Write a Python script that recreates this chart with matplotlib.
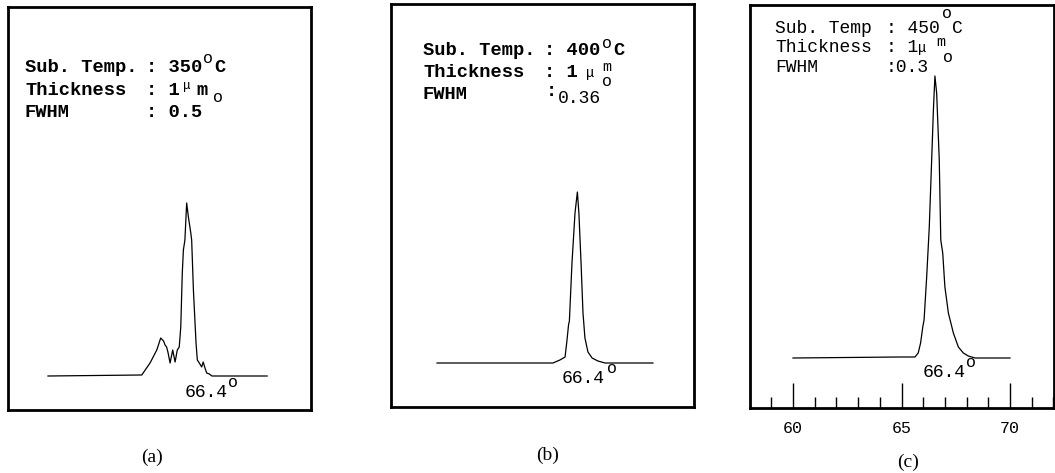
import matplotlib
matplotlib.use("Agg")
import matplotlib.pyplot as plt
from matplotlib.ticker import MultipleLocator

# XRD (2-theta) scans around the 66.4 deg reflection
two_theta_a = [60.0, 64.30, 64.68, 64.99, 65.17, 65.30, 65.37, 65.44, 65.50,
               65.60, 65.72, 65.83, 65.93, 66.02, 66.09, 66.16, 66.21, 66.28,
               66.36, 66.44, 66.55, 66.59, 66.67, 66.79, 66.85, 66.94, 67.05,
               67.12, 67.20, 67.28, 67.40, 67.52, 70.05]
counts_a = [0, 1, 13, 26, 38, 35, 31, 29, 24,
            13, 26, 14, 26, 29, 49, 103, 126, 136,
            173, 159, 143, 136, 86, 33, 16, 13, 9,
            14, 8, 3, 2, 0, 0]

two_theta_b = [60.0, 65.37, 65.69, 65.93, 66.02, 66.09, 66.13, 66.25, 66.39,
               66.50, 66.57, 66.67, 66.76, 66.85, 66.99, 67.18, 67.45, 67.78,
               70.0]
counts_b = [0, 0, 3, 6, 23, 38, 42, 100, 150,
            171, 150, 100, 50, 25, 11, 5, 2, 0,
            0]

two_theta_c = [60.0, 64.93, 65.62, 65.77, 65.88, 65.98, 66.04, 66.16, 66.28,
               66.39, 66.47, 66.54, 66.62, 66.74, 66.81, 66.90, 67.00, 67.16,
               67.39, 67.62, 67.85, 68.08, 68.39, 70.0]
counts_c = [0, 1, 1, 5, 15, 31, 38, 81, 131,
            198, 248, 282, 265, 198, 118, 105, 71, 45,
            25, 11, 5, 2, 0, 0]

temps = ["350", "400", "450"]
fwhm = ["0.5", "0.36", "0.3"]
peak_label = "66.4"
panel_tags = ["(a)", "(b)", "(c)"]
major_ticks = [60, 65, 70]

W, H = 1055, 473
MONO = "Liberation Mono"
fig = plt.figure(figsize=(W / 100, H / 100), dpi=100)


def box(l, r, t, b):
    return [l / W, 1 - b / H, (r - l) / W, (b - t) / H]


def txt(x, y, s, size=13, ha="left", va="baseline", **kw):
    fig.text(x / W, 1 - y / H, s, fontsize=size, ha=ha, va=va,
             family=kw.pop("family", MONO), **kw)


def lab(x, y, s, size=13.5, **kw):
    # typed parameter block: heavier typewriter look
    txt(x, y, s, size=size, fontweight="bold", **kw)


def deg(x, y, size=12):
    txt(x, y, "o", size=size, ha="center", va="center")


panels = [
    (two_theta_a, counts_a, box(8, 311, 7, 410), (58.165, 72.064), (-34, 369)),
    (two_theta_b, counts_b, box(391, 694, 4, 407), (57.87, 71.90), (-44, 359)),
    (two_theta_c, counts_c, box(750, 1054, 5, 408), (58.018, 72.028), (-50, 353)),
]
axes = []
for x, y, pos, xl, yl in panels:
    ax = fig.add_axes(pos)
    ax.plot(x, y, color="black", lw=0.9)
    ax.set_xlim(*xl); ax.set_ylim(*yl)
    ax.set_xticks([]); ax.set_yticks([])
    for s in ax.spines.values():
        s.set_linewidth(2.0)
    axes.append(ax)

# only (c) carries the 2-theta scale
ax = axes[2]
ax.set_xticks(major_ticks)
ax.set_xticklabels([str(t) for t in major_ticks], fontsize=12, family=MONO)
ax.xaxis.set_minor_locator(MultipleLocator(1))
ax.tick_params(axis="x", which="major", direction="in", length=18, width=1.0, pad=9)
ax.tick_params(axis="x", which="minor", direction="in", length=8, width=1.0)

# (a)
lab(25, 72, "Sub. Temp."); lab(146, 72, ": " + temps[0]); deg(208, 58); lab(214, 72, "C")
lab(25, 95, "Thickness"); lab(146, 95, ": 1"); txt(183, 89, "\u03bc", size=9); lab(196, 95, "m"); deg(218, 98)
lab(25, 117, "FWHM"); lab(146, 117, ": " + fwhm[0])
txt(185, 397, peak_label); deg(233, 382)

# (b)
lab(423, 55, "Sub. Temp."); lab(544, 55, ": " + temps[1]); deg(607, 43); lab(613, 55, "C")
lab(423, 77, "Thickness"); lab(544, 77, ": 1"); txt(586, 77, "\u03bc", size=10); txt(602, 71, "m", size=11)
deg(607, 82)
lab(423, 99, "FWHM"); lab(546, 96, ":"); txt(558, 103, fwhm[1])
txt(562, 383, peak_label); deg(612, 368)

# (c)
txt(775, 33, "Sub. Temp"); txt(886, 33, ": " + temps[2]); deg(947, 13); txt(952, 33, "C")
txt(775, 52, "Thickness"); txt(886, 52, ": 1"); txt(918, 52, "\u03bc", size=10); txt(936, 46, "m", size=11)
deg(948, 57)
txt(775, 72, "FWHM"); txt(886, 72, ":" + fwhm[2])
txt(923, 377, peak_label); deg(971, 362)

for tag, (cx, cy) in zip(panel_tags, [(152, 457), (548, 455), (908, 462)]):
    txt(cx, cy, tag, size=14, ha="center", va="center", family="Liberation Serif")

fig.savefig("out.png", dpi=100)
